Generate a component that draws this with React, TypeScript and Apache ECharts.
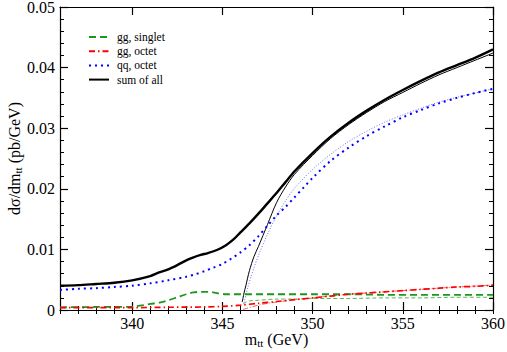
import React, { useEffect, useRef } from "react";
import * as echarts from "echarts";

// ---- data ----
const sumX = [336, 337, 338, 339, 340, 341, 341.5, 342, 342.5, 343, 343.4, 343.8, 344.2, 344.7, 345.2, 345.6, 346, 346.5, 347, 347.5, 348, 348.5, 349, 350, 351, 352, 353, 354, 355, 356, 357, 358, 359, 360];
const sumY = [0.0040, 0.0041, 0.0043, 0.0045, 0.0049, 0.0056, 0.0062, 0.0067, 0.0074, 0.0082, 0.0087, 0.0091, 0.0094, 0.0099, 0.0107, 0.0116, 0.0128, 0.0143, 0.0159, 0.0176, 0.0193, 0.0211, 0.0229, 0.0259, 0.0286, 0.0309, 0.0329, 0.0347, 0.0363, 0.0378, 0.0392, 0.0404, 0.0416, 0.0430];

const sumThinX = [346.1, 346.2, 346.3, 346.5, 346.75, 347, 347.5, 348, 348.5, 349, 350, 351, 352, 353, 354, 355, 356, 357, 358, 359, 360];
const sumThinY = [0.0013, 0.0028, 0.0040, 0.0065, 0.0088, 0.0105, 0.0141, 0.0177, 0.0203, 0.0224, 0.0255, 0.0283, 0.0306, 0.0326, 0.0344, 0.0359, 0.0374, 0.0388, 0.0400, 0.0412, 0.0424];

const qqX = [336, 337, 338, 339, 340, 341, 342, 343, 343.5, 344, 344.5, 345, 345.5, 346, 346.5, 347, 347.5, 348, 348.5, 349, 349.5, 350, 351, 352, 353, 354, 355, 356, 357, 358, 359, 360];
const qqY = [0.0033, 0.0035, 0.0036, 0.0038, 0.0040, 0.0044, 0.0049, 0.0055, 0.0059, 0.0064, 0.0070, 0.0076, 0.0085, 0.0095, 0.0107, 0.0122, 0.0139, 0.0156, 0.0170, 0.0186, 0.0202, 0.0218, 0.0246, 0.0268, 0.0287, 0.0303, 0.0318, 0.0330, 0.0341, 0.0350, 0.0358, 0.0365];

const qqThinX = [346.2, 346.4, 346.6, 346.8, 347, 347.5, 348, 348.5, 349, 350, 351, 352, 353, 354, 355, 356, 357, 358, 359, 360];
const qqThinY = [0.0012, 0.0036, 0.0056, 0.0074, 0.0090, 0.0125, 0.0155, 0.0180, 0.0201, 0.0232, 0.0257, 0.0278, 0.0295, 0.0310, 0.0322, 0.0333, 0.0343, 0.0351, 0.0358, 0.0365];

const ggSX = [336, 338, 340, 340.6, 341, 341.5, 342, 342.5, 343, 343.4, 343.8, 344.2, 344.7, 345.2, 346, 348, 350, 352, 354, 356, 358, 360];
const ggSY = [0.00044, 0.0005, 0.00055, 0.0008, 0.0010, 0.0012, 0.0016, 0.0021, 0.0026, 0.0029, 0.0030, 0.0030, 0.0028, 0.0026, 0.0026, 0.0026, 0.0026, 0.0026, 0.0025, 0.0025, 0.0025, 0.0025];

const ggSThinX = [346.15, 346.3, 346.5, 347, 348, 349, 350, 352, 354, 356, 358, 360];
const ggSThinY = [0.0010, 0.0013, 0.0015, 0.0016, 0.0018, 0.0018, 0.0019, 0.0019, 0.0020, 0.0020, 0.0021, 0.0021];

const ggOX = [336, 338, 340, 342, 344, 345, 346, 347, 348, 349, 350, 351, 352, 353, 354, 355, 356, 357, 358, 359, 360];
const ggOY = [0.0004, 0.0004, 0.0004, 0.00045, 0.0005, 0.0006, 0.0008, 0.0011, 0.0014, 0.0017, 0.0020, 0.0023, 0.0026, 0.0028, 0.0030, 0.0032, 0.0034, 0.0036, 0.0038, 0.0039, 0.0041];

const ggOThinX = [346.15, 346.5, 347, 347.5, 348, 348.5, 349, 350, 352, 354, 356, 358, 360];
const ggOThinY = [0.0001, 0.0004, 0.0008, 0.0011, 0.0013, 0.0015, 0.0017, 0.0020, 0.0026, 0.0030, 0.0034, 0.0038, 0.0041];

const legendNames = ["gg, singlet", "gg, octet", "qq, octet", "sum of all"];
const xMajorTicks = [340, 345, 350, 355, 360];
const yTickLabels = ["0", "0.01", "0.02", "0.03", "0.04", "0.05"];

const zip = (xs: number[], ys: number[]) => xs.map((x, i) => [x, ys[i]]);

const FONT = "Liberation Serif";
const GREEN = "#1e961e";

export default function App() {
  const ref = useRef<HTMLDivElement>(null);

  useEffect(() => {
    if (!ref.current) return;
    const chart = echarts.init(ref.current, undefined, { renderer: "svg" });

    const lineBase = { type: "line", symbol: "none", showSymbol: false, smooth: 0.3, xAxisIndex: 0, yAxisIndex: 0 };
    const axisLine = { show: true, onZero: false, lineStyle: { color: "#000", width: 1.2 } };
    const nameRich = {
      n: { fontFamily: FONT, fontSize: 16, color: "#000" },
      s: { fontFamily: FONT, fontSize: 11, color: "#000", verticalAlign: "bottom", padding: [7, 0, 0, 0] },
    };

    const option: any = {
      animation: false,
      backgroundColor: "#fff",
      textStyle: { fontFamily: FONT },
      grid: { left: 60, right: 14, top: 7, bottom: 42, outerBoundsMode: "none", containLabel: false },
      legend: {
        data: legendNames,
        orient: "vertical",
        left: 83,
        top: 26,
        itemWidth: 20,
        itemHeight: 10,
        itemGap: 2.2,
        itemStyle: { color: "transparent", borderWidth: 0, opacity: 0 },
        textStyle: { fontFamily: FONT, fontSize: 11.5, color: "#000", padding: [0, 0, 0, 3] },
      },
      xAxis: [
        {
          type: "value", position: "bottom", min: 336, max: 360,
          axisLine,
          axisTick: { show: true, inside: true, length: 8, customValues: xMajorTicks, lineStyle: { color: "#000", width: 1.2 } },
          axisLabel: { customValues: xMajorTicks, fontFamily: FONT, fontSize: 16, color: "#000", margin: 5 },
          splitLine: { show: false },
          name: "{n|m}{s|tt}{n| (GeV)}",
          nameLocation: "middle",
          nameMoveOverlap: false,
          nameGap: 20.5,
          nameTextStyle: { fontFamily: FONT, rich: nameRich },
        },
        {
          type: "value", position: "bottom", min: 336, max: 360, interval: 1,
          axisLine: { show: false },
          axisTick: { show: true, inside: true, length: 4, lineStyle: { color: "#000", width: 1 } },
          axisLabel: { show: false }, splitLine: { show: false },
        },
        {
          type: "value", position: "top", min: 336, max: 360,
          axisLine,
          axisTick: { show: true, inside: true, length: 8, customValues: xMajorTicks, lineStyle: { color: "#000", width: 1.2 } },
          axisLabel: { show: false }, splitLine: { show: false },
        },
        {
          type: "value", position: "top", min: 336, max: 360, interval: 1,
          axisLine: { show: false },
          axisTick: { show: true, inside: true, length: 4, lineStyle: { color: "#000", width: 1 } },
          axisLabel: { show: false }, splitLine: { show: false },
        },
      ],
      yAxis: [
        {
          type: "value", position: "left", min: 0, max: 0.05, interval: 0.01,
          axisLine,
          axisTick: { show: true, inside: true, length: 8, lineStyle: { color: "#000", width: 1.2 } },
          minorTick: { show: true, splitNumber: 5, length: 4, lineStyle: { color: "#000", width: 1 } },
          axisLabel: {
            fontFamily: FONT, fontSize: 16, color: "#000", margin: 5,
            formatter: (v: number) => yTickLabels[Math.round(v / 0.01)] ?? "",
          },
          splitLine: { show: false },
          name: "{n|dσ/dm}{s|tt}{n| (pb/GeV)}",
          nameLocation: "middle",
          nameMoveOverlap: false,
          nameGap: 37,
          nameTextStyle: { fontFamily: FONT, rich: nameRich },
        },
        {
          type: "value", position: "right", min: 0, max: 0.05, interval: 0.01,
          axisLine,
          axisTick: { show: true, inside: true, length: 8, lineStyle: { color: "#000", width: 1.2 } },
          minorTick: { show: true, splitNumber: 5, length: 4, lineStyle: { color: "#000", width: 1 } },
          axisLabel: { show: false }, splitLine: { show: false },
        },
      ],
      series: [
        { ...lineBase, name: "gg, singlet (thin)", data: zip(ggSThinX, ggSThinY), lineStyle: { color: "#55b855", width: 1, type: [4, 2.5] } },
        { ...lineBase, name: "gg, octet (thin)", data: zip(ggOThinX, ggOThinY), lineStyle: { color: "#ff5a5a", width: 1, type: [5, 2, 1, 2] } },
        { ...lineBase, name: "qq, octet (thin)", data: zip(qqThinX, qqThinY), lineStyle: { color: "#6d6dff", width: 1, type: [1, 1.8] } },
        { ...lineBase, name: "sum of all (thin)", data: zip(sumThinX, sumThinY), lineStyle: { color: "#000", width: 1 } },
        { ...lineBase, name: "gg, singlet", data: zip(ggSX, ggSY), color: GREEN, lineStyle: { color: GREEN, width: 1.8, type: [7, 4] } },
        { ...lineBase, name: "gg, octet", data: zip(ggOX, ggOY), color: "#ff0000", lineStyle: { color: "#ff0000", width: 1.7, type: [6, 3, 1.5, 3] } },
        { ...lineBase, name: "qq, octet", data: zip(qqX, qqY), color: "#0000ff", lineStyle: { color: "#0000ff", width: 2, type: [2, 4] } },
        { ...lineBase, name: "sum of all", data: zip(sumX, sumY), color: "#000", lineStyle: { color: "#000", width: 2.4 } },
      ],
    };

    chart.setOption(option);
    return () => chart.dispose();
  }, []);

  return <div ref={ref} style={{ position: "absolute", left: 0, top: 0, width: 507, height: 352 }} />;
}
